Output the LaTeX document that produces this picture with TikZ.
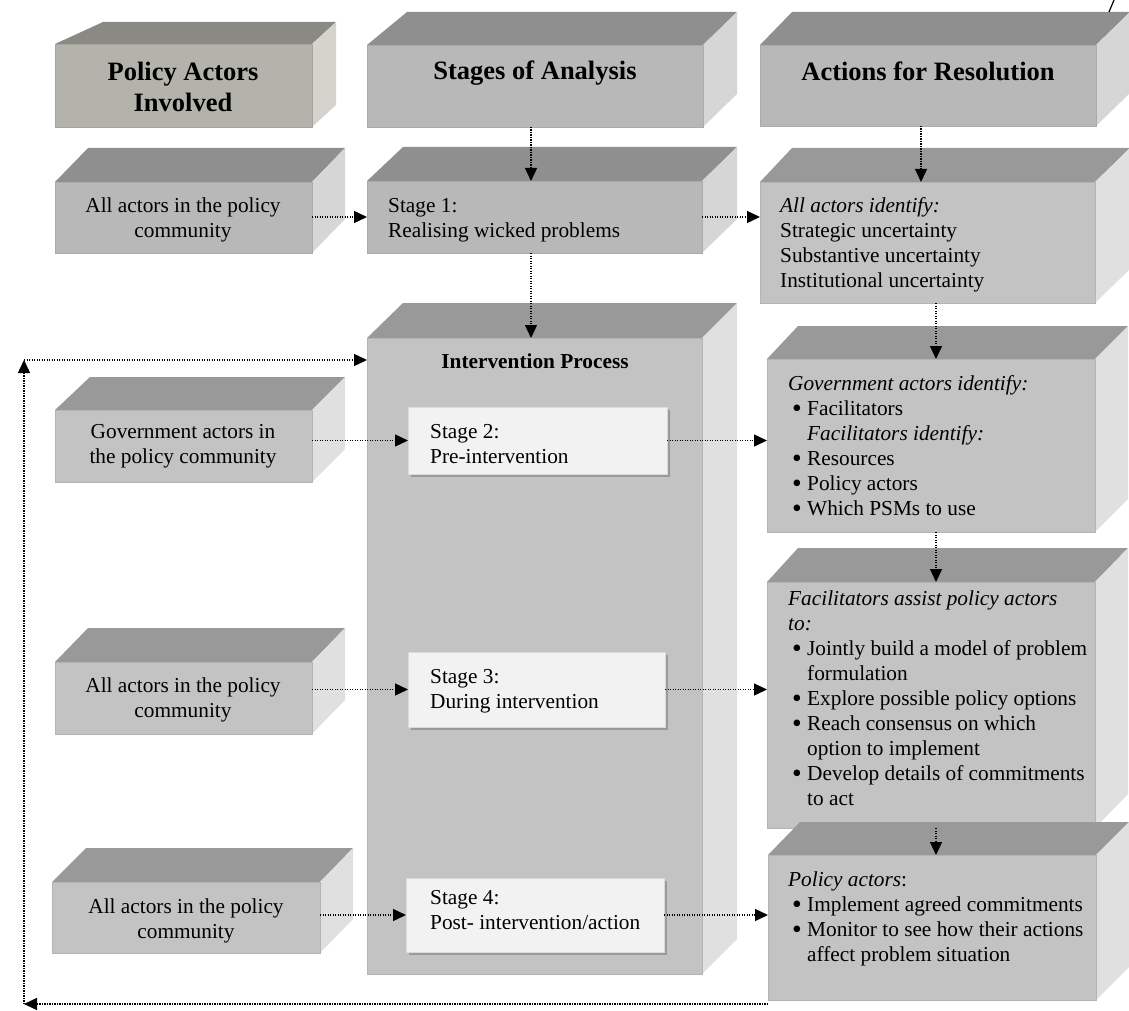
\documentclass[tikz,border=0pt]{standalone}
\usepackage{fontspec}
\setmainfont{Liberation Serif}
\usetikzlibrary{arrows.meta,shadows}
\definecolor{dfront}{HTML}{B8B8B8}
\definecolor{dtop}{HTML}{8F8F8F}
\definecolor{dside}{HTML}{D6D6D6}
\definecolor{dedge}{HTML}{ABABAB}
\definecolor{lfront}{HTML}{C3C3C3}
\definecolor{ltop}{HTML}{999999}
\definecolor{lside}{HTML}{E0E0E0}
\definecolor{ledge}{HTML}{B4B4B4}
\definecolor{afront}{HTML}{B3B3AB}
\definecolor{atop}{HTML}{8A8984}
\definecolor{aside}{HTML}{D4D3CC}
\definecolor{aedge}{HTML}{A6A69F}
\definecolor{stagefill}{HTML}{F2F2F2}
\definecolor{stageedge}{HTML}{DADADA}
\definecolor{shadowc}{HTML}{9A9A9A}
\newcommand\bodyfont{\fontsize{21.3}{25}\selectfont}
\newcommand\headfont{\fontsize{26.5}{31}\selectfont\bfseries}
\newcommand\bitem[1]{\hspace*{4pt}\makebox[15pt][l]{\raisebox{-2.2pt}{\scalebox{1.3}{\textbullet}}}#1}
\newcommand\bcont[1]{\hspace*{19pt}#1}
% name, x1, y1, x2, y2, back-left x, back-right x, back-top y, colour scheme
\newcommand\blockbox[9]{%
  \fill[#9top] (#2,#3) -- (#6,#8) -- (#7,#8) -- (#4,#3) -- cycle;
  \fill[#9side] (#4,#3) -- (#7,#8) -- (#7,{#5-#3+#8}) -- (#4,#5) -- cycle;
  \node[fill=#9front, draw=#9edge, line width=0.8pt, inner sep=0pt, outer sep=0pt,
        anchor=north west, minimum width={#4-#2}, minimum height={#5-#3}] (#1) at (#2,#3) {};
}
\tikzset{
  arr/.style={line width=1.4pt, dash pattern=on 1.4pt off 1.1pt, -{Triangle[length=13pt,width=12pt]}},
  stagebox/.style={fill=stagefill, draw=stageedge, line width=0.6pt, inner sep=0pt, outer sep=0pt,
        anchor=north west, drop shadow={shadow xshift=3pt, shadow yshift=-3pt, fill=shadowc, opacity=1}},
  ctext/.style={anchor=base, inner sep=0pt, font=\bodyfont},
  ltext/.style={anchor=base west, inner sep=0pt, font=\bodyfont},
  htext/.style={anchor=base, inner sep=0pt, font=\headfont}
}
\begin{document}
\begin{tikzpicture}[x=1pt,y=-1pt]
\fill[white] (0,0) rectangle (1129,1011);
\useasboundingbox (0,0) rectangle (1129,1011);

% headers
\blockbox{hA}{55}{44}{312}{127}{103}{336}{22}{a}
\blockbox{hB}{367}{45}{703}{127}{407}{737}{12}{d}
\blockbox{hC}{760}{45}{1096}{126}{792}{1130}{12}{d}
\node[htext] (tA) at (183,81) {\parbox[t]{250pt}{\centering Policy Actors\\Involved}};
\node[htext] (tB) at (535,80) {Stages of Analysis};
\node[htext] (tC) at (928,81) {Actions for Resolution};

% row 1
\blockbox{la1}{55}{182}{312}{253}{88}{345}{148}{d}
\blockbox{s1}{367}{181}{702}{253}{403}{737}{147}{d}
\blockbox{r1}{760}{182}{1095}{303}{792}{1130}{148}{l}
\node[ctext] (tla1) at (183,212) {\parbox[t]{250pt}{\centering All actors in the policy\\community}};
\node[ltext] (ts1) at (388,212) {\parbox[t]{320pt}{\raggedright Stage 1:\\Realising wicked problems}};
\node[ltext] (tr1) at (780,212) {\parbox[t]{320pt}{\raggedright \textit{All actors identify:}\\Strategic uncertainty\\Substantive uncertainty\\Institutional uncertainty}};

% intervention process
\blockbox{iv}{367}{338}{702}{974}{403}{737}{303}{l}
\node[htext, font=\bodyfont\bfseries] (tiv) at (535,368) {Intervention Process};

% row 2
\blockbox{la2}{55}{410}{312}{482}{90}{345}{377}{l}
\node[stagebox, minimum width={667-408}, minimum height={474-407}] (st2) at (408,407) {};
\blockbox{r2}{767}{359}{1095}{532}{798}{1128}{326}{l}
\node[ctext] (tla2) at (183,438) {\parbox[t]{250pt}{\centering Government actors in\\the policy community}};
\node[ltext] (tst2) at (430,438) {\parbox[t]{230pt}{\raggedright Stage 2:\\Pre-intervention}};
\node[ltext] (tr2) at (788,390) {\parbox[t]{320pt}{\raggedright \textit{Government actors identify:}\\
  \bitem{Facilitators}\\ \bcont{\textit{Facilitators identify:}}\\ \bitem{Resources}\\ \bitem{Policy actors}\\ \bitem{Which PSMs to use}}};

% row 3
\blockbox{la3}{55}{662}{312}{734}{88}{345}{628}{l}
\node[stagebox, minimum width={665-408}, minimum height={727-652}] (st3) at (408,652) {};
\blockbox{r3}{767}{582}{1095}{828}{798}{1128}{548}{l}
\node[ctext] (tla3) at (183,692) {\parbox[t]{250pt}{\centering All actors in the policy\\community}};
\node[ltext] (tst3) at (430,683) {\parbox[t]{230pt}{\raggedright Stage 3:\\During intervention}};
\node[ltext] (tr3) at (788,605) {\parbox[t]{330pt}{\raggedright \textit{Facilitators assist policy actors}\\ \textit{to:}\\
  \bitem{Jointly build a model of problem}\\ \bcont{formulation}\\ \bitem{Explore possible policy options}\\
  \bitem{Reach consensus on which}\\ \bcont{option to implement}\\ \bitem{Develop details of commitments}\\ \bcont{to act}}};

% row 4
\blockbox{la4}{52}{882}{320}{953}{86}{353}{848}{l}
\node[stagebox, minimum width={664-406}, minimum height={952-878}] (st4) at (406,878) {};
\blockbox{r4}{768}{855}{1096}{1000}{800}{1129}{822}{l}
\node[ctext] (tla4) at (186,913) {\parbox[t]{250pt}{\centering All actors in the policy\\community}};
\node[ltext] (tst4) at (430,904) {\parbox[t]{230pt}{\raggedright Stage 4:\\Post- intervention/action}};
\node[ltext] (tr4) at (788,886) {\parbox[t]{330pt}{\raggedright \textit{Policy actors}:\\
  \bitem{Implement agreed commitments}\\ \bitem{Monitor to see how their actions}\\ \bcont{affect problem situation}}};

% column coordinates
\coordinate (colB) at (531,0);
\coordinate (colC) at (921,0);
\coordinate (colR) at (936,0);
\coordinate (fbL) at (24,1004);
\coordinate (fbT) at (24,360);
\coordinate (art1) at (1109,12);
\coordinate (art2) at (1114,0);

% connectors
\draw[arr] (hB.south -| colB) -- (s1.north -| colB);
\draw[arr] (s1.south -| colB) -- (iv.north -| colB);
\draw[arr] (hC.south -| colC) -- (r1.north -| colC);
\draw[arr] (r1.south -| colR) -- (r2.north -| colR);
\draw[arr] (r2.south -| colR) -- (r3.north -| colR);
\draw[arr] (r3.south -| colR) -- (r4.north -| colR);

\draw[arr] (la1.east |- s1.west) -- (s1.west);
\draw[arr] (s1.east) -- (r1.west |- s1.east);
\draw[arr] (la2.east |- st2.west) -- (st2.west);
\draw[arr] (st2.east) -- (r2.west |- st2.east);
\draw[arr] (la3.east |- st3.west) -- (st3.west);
\draw[arr] (st3.east) -- (r3.west |- st3.east);
\draw[arr] (la4.east |- st4.west) -- (st4.west);
\draw[arr] (st4.east) -- (r4.west |- st4.east);

\draw[arr] (fbL -| r4.south west) -- (fbL);
\draw[arr] (fbL) -- (fbT);
\draw[arr] (fbT) -- (fbT -| iv.west);

\draw[line width=1.2pt] (art1) -- (art2);
\end{tikzpicture}
\end{document}
